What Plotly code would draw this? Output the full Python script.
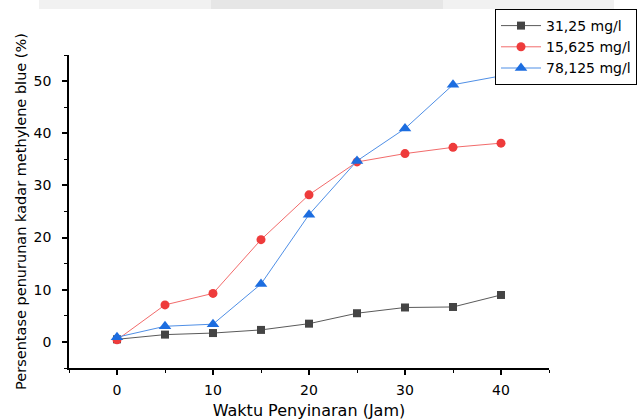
import plotly.graph_objects as go

waktu = [0, 5, 10, 15, 20, 25, 30, 35, 40]
s_31 = [0.5, 1.4, 1.7, 2.3, 3.5, 5.5, 6.6, 6.7, 9.0]
s_15 = [0.4, 7.1, 9.3, 19.6, 28.2, 34.5, 36.1, 37.3, 38.1]
s_78 = [0.9, 3.0, 3.4, 11.1, 24.4, 34.7, 40.9, 49.3, 51.0]
names = ["31,25 mg/l", "15,625 mg/l", "78,125 mg/l"]

FONT = "DejaVu Sans, Liberation Sans, Arial, sans-serif"

fig = go.Figure()
fig.add_trace(go.Scatter(x=waktu, y=s_31, name=names[0], mode="lines+markers",
                         line=dict(color="#5a5a5a", width=1),
                         marker=dict(symbol="square", size=8, color="#444444")))
fig.add_trace(go.Scatter(x=waktu, y=s_15, name=names[1], mode="lines+markers",
                         line=dict(color="#f26b6b", width=1),
                         marker=dict(symbol="circle", size=9, color="#ee3b3b")))
fig.add_trace(go.Scatter(x=waktu, y=s_78, name=names[2], mode="lines+markers",
                         line=dict(color="#4f8fe6", width=1),
                         marker=dict(symbol="triangle-up", size=11, color="#1c6de0")))

axis_common = dict(showline=True, linecolor="black", linewidth=1.5, ticks="outside",
                   ticklen=5, tickwidth=1.5, tickcolor="black", showgrid=False,
                   zeroline=False, automargin=False,
                   tickfont=dict(family=FONT, size=14, color="black"),
                   minor=dict(ticks="outside", ticklen=3, tickwidth=1.2, tickcolor="black", dtick=5))

fig.update_layout(
    width=639, height=420,
    margin=dict(l=69, r=90, t=55, b=52, autoexpand=False),
    paper_bgcolor="white", plot_bgcolor="white",
    font=dict(family=FONT, color="black"),
    xaxis=dict(range=[-5, 45], dtick=10, tick0=0, ticklabelstandoff=3,
               title=dict(text="Waktu Penyinaran (Jam)", font=dict(family=FONT, size=16), standoff=10),
               **axis_common),
    yaxis=dict(range=[-5, 55], dtick=10, tick0=0, ticklabelstandoff=8,
               title=dict(text="Persentase penurunan kadar methylene blue (%)", font=dict(family=FONT, size=14.5), standoff=4),
               **axis_common),
    legend=dict(x=(495-69)/480, y=(368-9)/313, xanchor="left", yanchor="top",
                bgcolor="white", bordercolor="black", borderwidth=1,
                font=dict(family=FONT, size=14, color="black"),
                tracegroupgap=0, itemwidth=40),
    showlegend=True,
    shapes=[
        dict(type="rect", xref="paper", yref="paper", x0=(39-69)/480, x1=(614-69)/480,
             y0=(368-9)/313, y1=368/313, fillcolor="#f1f1f1", line=dict(width=0), layer="below"),
        dict(type="rect", xref="paper", yref="paper", x0=(211-69)/480, x1=(443-69)/480,
             y0=(368-9)/313, y1=368/313, fillcolor="#e6e6e6", line=dict(width=0), layer="below"),
    ],
)

fig.write_html("out.html", config={"displayModeBar": False},
               post_script="document.body.style.margin='0';document.body.style.overflow='hidden';")
